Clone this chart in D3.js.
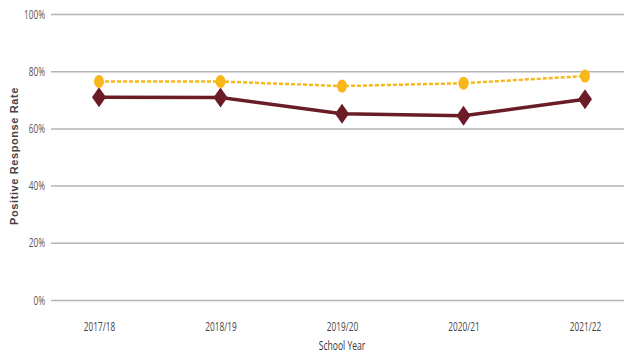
<!DOCTYPE html>
<html>
<head>
<meta charset="utf-8">
<script src="https://cdn.jsdelivr.net/npm/d3@7"></script>
<style>
  html, body { margin: 0; padding: 0; background: #fff; }
  svg { display: block; }
</style>
</head>
<body>
<svg id="chart" width="624" height="358"></svg>
<script>
// School years and positive response rates (%) for the two series
const years = ["2017/18", "2018/19", "2019/20", "2020/21", "2021/22"];
const seriesA = [76.4, 76.4, 74.8, 75.8, 78.3];   // dashed gold line
const seriesB = [70.9, 70.8, 65.1, 64.4, 70.2];   // solid maroon line
const yTicks = [0, 20, 40, 60, 80, 100];

const svg = d3.select("#chart");
const gridLeft = 51, gridRight = 624;
const labelFont = "'Open Sans', 'Liberation Sans', sans-serif";
const squeeze = 0.66;   // horizontal compression for the condensed label face

const x = d3.scalePoint().domain(years).range([99, 585]);
const y = d3.scaleLinear().domain([0, 100]).range([300, 14]);

// Horizontal gridlines with percentage labels
const yAxis = d3.axisLeft(y)
  .tickValues(yTicks)
  .tickFormat(d => d + "%")
  .tickSize(-(gridRight - gridLeft))
  .tickPadding(6);

const gy = svg.append("g")
  .attr("transform", `translate(${gridLeft},0)`)
  .call(yAxis);
gy.select(".domain").remove();
gy.selectAll(".tick line").attr("stroke", "#b4b4b4").attr("stroke-width", 1.5);
gy.selectAll(".tick text")
  .attr("fill", "#555")
  .attr("font-family", labelFont)
  .attr("font-size", 12.5)
  .attr("x", -6 / squeeze)
  .attr("transform", `scale(${squeeze},1)`);

// Category labels along the bottom
const xAxis = d3.axisBottom(x).tickSize(0).tickPadding(0);
const gx = svg.append("g")
  .attr("transform", "translate(0,327)")
  .call(xAxis);
gx.select(".domain").remove();
gx.selectAll(".tick text")
  .attr("fill", "#444")
  .attr("font-family", labelFont)
  .attr("font-size", 12.5)
  .attr("dy", "0.35em")
  .attr("y", 0)
  .attr("transform", `scale(${squeeze},1)`);

// Axis titles
svg.append("text")
  .attr("transform", `translate(18,156) rotate(-90)`)
  .attr("text-anchor", "middle")
  .attr("font-family", "'Liberation Sans', Arial, sans-serif")
  .attr("font-weight", "bold")
  .attr("font-size", 11)
  .attr("letter-spacing", 0.6)
  .attr("fill", "#444")
  .text("Positive Response Rate");

svg.append("text")
  .attr("transform", `translate(342,350) scale(${squeeze},1)`)
  .attr("text-anchor", "middle")
  .attr("font-family", labelFont)
  .attr("font-size", 13)
  .attr("fill", "#333")
  .text("School Year");

const line = d3.line().x((d, i) => x(years[i])).y(d => y(d));

// Maroon series: solid line with diamond markers
svg.append("path")
  .datum(seriesB)
  .attr("d", line)
  .attr("fill", "none")
  .attr("stroke", "#6a1d26")
  .attr("stroke-width", 3.5);

svg.append("g").selectAll("path")
  .data(seriesB)
  .join("path")
  .attr("transform", (d, i) => `translate(${x(years[i])},${y(d)})`)
  .attr("d", "M0,-10 L7,0 L0,10 L-7,0 Z")
  .attr("fill", "#6a1d26");

// Gold series: dashed line with oval markers
svg.append("path")
  .datum(seriesA)
  .attr("d", line)
  .attr("fill", "none")
  .attr("stroke", "#f8b81c")
  .attr("stroke-width", 2.5)
  .attr("stroke-dasharray", "4,2");

svg.append("g").selectAll("ellipse")
  .data(seriesA)
  .join("ellipse")
  .attr("cx", (d, i) => x(years[i]))
  .attr("cy", d => y(d))
  .attr("rx", 5)
  .attr("ry", 6.5)
  .attr("fill", "#f8b81c");
</script>
</body>
</html>
